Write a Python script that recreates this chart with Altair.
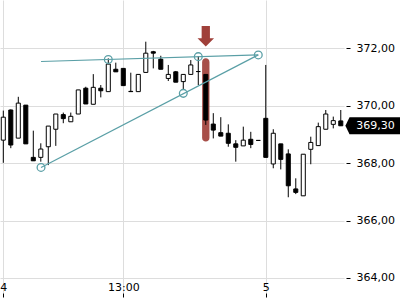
import altair as alt
import pandas as pd

# ---- data ----
opens = [368.80, 369.85, 368.87, 370.02, 368.20, 368.20, 368.57, 369.18, 369.69, 369.44,
         369.71, 370.61, 370.05, 370.61, 370.49, 371.27, 371.30, 370.50, 370.49, 371.16,
         371.88, 371.62, 370.95, 371.18, 370.84, 371.09, 371.19, 371.09, 369.36, 369.06,
         369.04, 368.67, 368.60, 368.83, 368.79, 369.56, 367.97, 368.67, 368.32, 367.10,
         366.86, 368.48, 368.61, 369.18, 369.35, 369.47]
highs = [369.83, 369.87, 370.31, 370.02, 369.13, 368.69, 369.29, 369.71, 369.76, 369.76,
         370.55, 370.66, 371.10, 370.72, 371.65, 371.50, 371.30, 371.15, 371.09, 372.23,
         371.91, 371.74, 371.42, 371.21, 371.09, 371.59, 371.73, 371.09, 369.74, 369.60,
         369.35, 368.80, 369.27, 369.09, 368.79, 371.42, 369.18, 368.67, 368.48, 367.47,
         368.31, 368.92, 369.41, 369.85, 369.62, 369.85]
lows = [368.01, 368.52, 368.87, 368.67, 368.08, 368.05, 367.93, 368.60, 369.39, 369.44,
        369.71, 370.06, 370.05, 370.29, 370.49, 371.18, 370.70, 370.49, 370.49, 371.16,
        371.30, 371.27, 370.86, 370.82, 370.55, 371.09, 370.72, 369.33, 368.86, 368.94,
        368.57, 368.05, 368.60, 368.52, 368.79, 368.20, 367.82, 367.78, 366.81, 366.92,
        366.86, 367.96, 368.61, 369.18, 369.21, 369.30]
closes = [369.60, 368.63, 370.09, 368.67, 368.08, 368.49, 369.29, 369.71, 369.55, 369.63,
          370.55, 370.06, 370.64, 370.52, 371.45, 371.18, 370.70, 370.49, 371.09, 371.83,
          371.83, 371.27, 371.09, 370.82, 371.09, 371.42, 371.19, 369.50, 369.15, 368.94,
          368.69, 368.55, 368.80, 368.65, 368.79, 368.20, 369.04, 368.13, 367.21, 366.98,
          368.31, 368.72, 369.27, 369.71, 369.48, 369.30]

x_tick_idx = [0, 16, 35]
x_tick_labels = ["4", "13:00", "5"]
y_ticks = [364, 366, 368, 370, 372]

# trend lines (bar index, price)
tl_x1 = [5.03, 5.03]
tl_y1 = [371.54, 367.85]
tl_x2 = [34, 34]
tl_y2 = [371.77, 371.77]
anchor_x = [5.03, 14, 24, 26, 34]
anchor_y = [367.85, 371.61, 370.43, 371.71, 371.77]

# highlighted candle + arrow
hl_idx = [27]
hl_top = [371.65]
hl_bottom = [368.75]
arrow_price = [372.42]

last_price = [369.30]
last_label = ["369,30"]

# ---- frames ----
n = len(opens)
df = pd.DataFrame({"i": list(range(n)), "open": opens, "high": highs,
                   "low": lows, "close": closes})
df["top"] = df[["open", "close"]].max(axis=1)
df["bot"] = df[["open", "close"]].min(axis=1)
df["up"] = df["close"] > df["open"]
df["xl"] = df["i"] - 0.27
df["xr"] = df["i"] + 0.27

tl = pd.DataFrame({"x1": tl_x1, "y1": tl_y1, "x2": tl_x2, "y2": tl_y2})
anchors = pd.DataFrame({"x": anchor_x, "y": anchor_y})
hl = pd.DataFrame({"x": hl_idx, "top": hl_top, "bot": hl_bottom})
hl["xl"] = hl["x"] - 0.49
hl["xr"] = hl["x"] + 0.49
arrow = pd.DataFrame({"x": hl_idx, "y": arrow_price})
lp = pd.DataFrame({"y": last_price, "t": last_label})

label_expr = " : ".join(
    [f"datum.value == {v} ? '{l}'" for v, l in zip(x_tick_idx[:-1], x_tick_labels[:-1])]
) + f" : '{x_tick_labels[-1]}'"

FONT = "DejaVu Sans"
GRID = "#dddddd"
TEAL = "#5a9fa6"
RED = "#a0403a"

xscale = alt.Scale(domain=[-0.44, 45.43], nice=False, zero=False)
yscale = alt.Scale(domain=[363.474, 373.683], nice=False, zero=False)

xaxis = alt.Axis(values=x_tick_idx, labelExpr=label_expr, title=None, domain=False,
                 tickSize=4, tickColor="#000000", labelPadding=-16, labelFlush=False,
                 grid=True, gridColor=GRID, labelFont=FONT, labelFontSize=11,
                 labelColor="#000000")
yaxis = alt.Axis(values=y_ticks, orient="right", title=None, domain=False,
                 labelExpr="replace(format(datum.value, '.2f'), '.', ',')",
                 tickSize=4, tickWidth=1, tickColor="#000000", labelPadding=6, offset=2,
                 grid=True, gridColor=GRID, labelFont=FONT, labelFontSize=11,
                 labelColor="#000000")

base_x = alt.X("i:Q", scale=xscale, axis=xaxis)

highlight = alt.Chart(hl).mark_rect(color=RED, opacity=0.92, cornerRadius=3.6).encode(
    x=alt.X("xl:Q", scale=xscale, axis=xaxis), x2="xr:Q",
    y=alt.Y("top:Q", scale=yscale, axis=yaxis), y2="bot:Q")

wicks = alt.Chart(df).mark_rule(color="#000000", strokeWidth=1).encode(
    x=base_x,
    y=alt.Y("low:Q", scale=yscale, axis=yaxis), y2="high:Q")

bodies = alt.Chart(df).mark_rect(stroke="#000000", strokeWidth=1).encode(
    x=alt.X("xl:Q", scale=xscale, axis=xaxis), x2="xr:Q",
    y=alt.Y("bot:Q", scale=yscale, axis=yaxis), y2="top:Q",
    fill=alt.Fill("up:N", scale=alt.Scale(domain=[True, False],
                                          range=["#ffffff", "#000000"]), legend=None))

lines = alt.Chart(tl).mark_rule(color=TEAL, strokeWidth=1.2).encode(
    x=alt.X("x1:Q", scale=xscale, axis=xaxis), x2="x2:Q",
    y=alt.Y("y1:Q", scale=yscale, axis=yaxis), y2="y2:Q")

circles = alt.Chart(anchors).mark_point(shape="circle", filled=False, stroke=TEAL,
                                        strokeWidth=1.3, size=60, opacity=1).encode(
    x=alt.X("x:Q", scale=xscale, axis=xaxis),
    y=alt.Y("y:Q", scale=yscale, axis=yaxis))

arrow_mark = alt.Chart(arrow).mark_point(
    shape="M-0.4,-1 L0.4,-1 L0.4,0.2 L0.8,0.2 L0,1 L-0.8,0.2 L-0.4,0.2 Z",
    filled=True, fill=RED, size=428, opacity=1).encode(
    x=alt.X("x:Q", scale=xscale, axis=xaxis),
    y=alt.Y("y:Q", scale=yscale, axis=yaxis))

price_box = alt.Chart(lp).mark_point(
    shape="M-1,0 L-0.85,-0.31 L1,-0.31 L1,0.31 L-0.85,0.31 Z",
    filled=True, fill="#000000", size=3025, opacity=1).encode(
    x=alt.value(372.9),
    y=alt.Y("y:Q", scale=yscale, axis=yaxis))

price_text = alt.Chart(lp).mark_text(color="#ffffff", font=FONT, fontSize=11,
                                     align="center", baseline="middle").encode(
    x=alt.value(375.5),
    y=alt.Y("y:Q", scale=yscale, axis=yaxis),
    text="t:N")

chart = alt.layer(highlight, wicks, bodies, lines, circles, arrow_mark,
                  price_box, price_text).properties(
    width=344, height=293,
    autosize=alt.AutoSizeParams(type="none"),
    padding={"left": 0, "top": 0, "right": 56, "bottom": 7},
    view=alt.ViewBackground(stroke="transparent", strokeWidth=0),
).configure_view(strokeWidth=0, stroke="transparent").configure(background="#ffffff")

chart.save("out.html", embed_options={"renderer": "svg", "actions": False})
